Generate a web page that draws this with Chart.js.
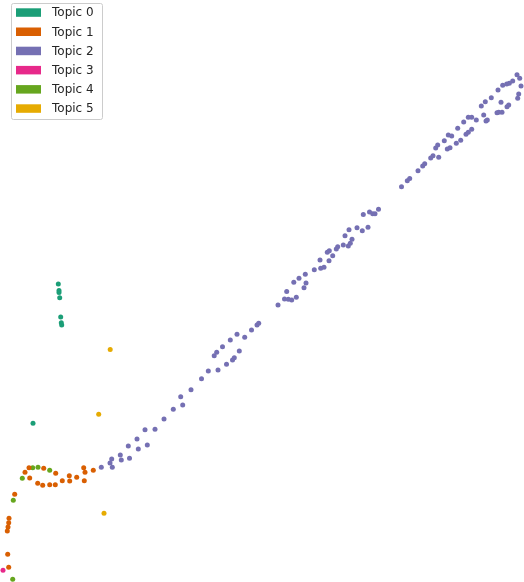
<!DOCTYPE html>
<html>
<head>
<meta charset="utf-8">
<script src="https://cdn.jsdelivr.net/npm/chart.js@4.4.1/dist/chart.umd.min.js"></script>
<style>
  html, body { margin: 0; padding: 0; background: #fff; }
  canvas { display: block; }
</style>
</head>
<body>
<canvas id="topicChart" width="524" height="582"></canvas>
<script>
// topic names and colours (Dark2)
const topicNames = ["Topic 0", "Topic 1", "Topic 2", "Topic 3", "Topic 4", "Topic 5"];
const topicColors = ["#1b9e77", "#d95f02", "#7570b3", "#e7298a", "#66a61e", "#e6ab02"];

// 2D embedding coordinates, one list per topic
const topic0 = [[58.3, 284], [59, 290.5], [59, 292.5], [59.7, 297.7], [60.7, 317], [61.3, 322.7], [61.7, 325], [33, 423.3]];
const topic1 = [[29, 467.7], [25, 472.3], [29.7, 478], [43.7, 468.3], [55.7, 473.3], [37.7, 483.3], [42.7, 485.3],
    [49.7, 484.7], [55.3, 484.7], [62.3, 480.7], [69.3, 475.7], [69.7, 481], [76.7, 477.3], [83.7, 467.7],
    [85, 472.3], [84.3, 480.7], [93.3, 470.3], [14.7, 494.3], [9, 518.3], [8.7, 522.7], [8, 527], [7.3, 531],
    [7.7, 554.3], [8.7, 567.3]];
const topic2 = [[101.3, 467.3], [110, 463], [111.7, 459], [112.3, 467.3], [120.3, 455], [121.3, 460], [128.3, 446],
    [129.5, 458.3], [137, 439], [138.3, 449], [145, 429.7], [147.3, 445], [155, 429.3], [164, 419], [173.3, 409.3],
    [182.7, 405], [180.7, 396.7], [191, 389.7], [201.5, 378.8], [208.3, 371], [218, 370], [214.2, 355.7],
    [216.7, 352.2], [222.5, 346.8], [226.5, 364.3], [232.5, 360], [234.3, 357.7], [239.3, 351], [230.3, 340],
    [237, 334.3], [244.7, 337.3], [251.5, 330], [257, 325], [258.7, 323.3], [278, 305], [284.5, 299],
    [288.3, 299.3], [291.7, 300], [286.7, 291.5], [296.3, 297.3], [293.8, 282.2], [299, 278.3], [304, 287.7],
    [306, 283], [305.3, 274.3], [314.3, 269.7], [320.7, 268.3], [324, 267.3], [320, 260], [329, 260.7],
    [332.7, 255.7], [327.3, 252.3], [329.3, 250.7], [336.3, 249], [337.7, 246.7], [343.3, 245], [348.3, 246],
    [350.3, 243.3], [352, 239.3], [345, 235.7], [349, 229.7], [357, 227.7], [362.3, 230.7], [368, 227.3],
    [363.3, 214.5], [369.5, 212], [372.7, 213.8], [375, 213.8], [378.5, 209.3], [401.5, 186.7], [407.3, 180.7],
    [409.7, 178.5], [418, 170.7], [422.7, 166], [424.7, 163.7], [430.7, 158], [433, 155.7], [438.7, 157.3],
    [435.7, 148], [437.7, 145], [444.3, 140.7], [447.3, 149], [450, 147.7], [448.3, 135], [451.7, 136],
    [456.3, 143.3], [460.7, 140.3], [457.7, 128.3], [466, 134.3], [468.3, 132.3], [471.7, 129.3], [463.7, 122],
    [468.3, 117.3], [471.7, 117.3], [476.3, 120], [483.7, 115], [486, 121], [487.3, 120], [481.3, 106],
    [485.3, 101.7], [491.3, 97.7], [497, 112.7], [498.7, 112.3], [502, 112.3], [501, 102.3], [507, 106.7],
    [508.7, 105], [498, 90], [502.7, 85.3], [506.7, 84], [509.3, 83.3], [512.7, 81], [517, 74.7], [519.7, 78.3],
    [521, 86], [518.7, 94], [517.7, 98.3]];
const topic3 = [[3, 570.3]];
const topic4 = [[32.7, 467.7], [38, 467.3], [49.7, 470.3], [22.3, 478.3], [13.3, 500.3], [12.7, 579.3]];
const topic5 = [[110.2, 349.5], [98.7, 414.2], [104, 513.3]];

const topicPoints = [topic0, topic1, topic2, topic3, topic4, topic5];

// legend box in the top left corner, like matplotlib's
const boxLegend = {
    id: "boxLegend",
    afterDraw(chart) {
        const ctx = chart.ctx;
        ctx.save();
        ctx.fillStyle = "rgba(255,255,255,0.8)";
        ctx.strokeStyle = "#cccccc";
        ctx.lineWidth = 1;
        ctx.beginPath();
        ctx.roundRect(11.5, 3.5, 91, 116, 2);
        ctx.fill();
        ctx.stroke();
        ctx.font = "12px 'DejaVu Sans'";
        ctx.textBaseline = "middle";
        topicNames.forEach((name, i) => {
            const y = 12.3 + i * 19.2;
            ctx.fillStyle = topicColors[i];
            ctx.fillRect(16, y - 4, 25, 8.5);
            ctx.fillStyle = "#262626";
            ctx.fillText(name, 52, y + 1);
        });
        ctx.restore();
    },
};

const ctx = document.getElementById("topicChart").getContext("2d");
const topicChart = new Chart(ctx, {
    type: "scatter",
    data: {
        datasets: topicPoints.map((pts, i) => ({
            label: topicNames[i],
            data: pts.map(p => ({ x: p[0], y: p[1] })),
            backgroundColor: topicColors[i],
            borderWidth: 0,
            pointRadius: 2.5,
            clip: false,
        })),
    },
    options: {
        responsive: false,
        animation: false,
        layout: { padding: 0, autoPadding: false },
        plugins: {
            legend: { display: false },
            tooltip: { enabled: false },
        },
        scales: {
            x: { type: "linear", min: 0, max: 524, display: false },
            y: { type: "linear", min: 0, max: 582, reverse: true, display: false },
        },
    },
    plugins: [boxLegend],
});
</script>
</body>
</html>
